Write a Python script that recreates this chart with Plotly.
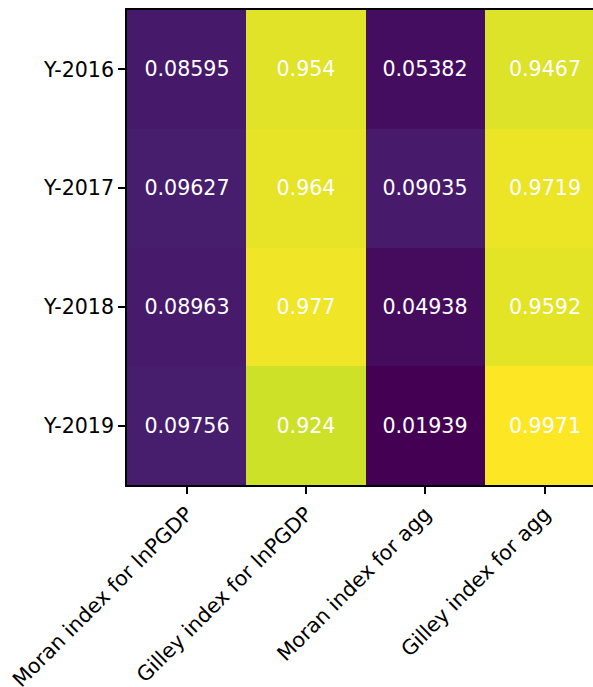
import plotly.graph_objects as go

# Spatial autocorrelation indices by year
years = ["Y-2016", "Y-2017", "Y-2018", "Y-2019"]
indices = ["Moran index for lnPGDP", "Gilley index for lnPGDP",
           "Moran index for agg", "Gilley index for agg"]
moran_lnpgdp = [0.08595, 0.09627, 0.08963, 0.09756]
gilley_lnpgdp = [0.954, 0.964, 0.977, 0.924]
moran_agg = [0.05382, 0.09035, 0.04938, 0.01939]
gilley_agg = [0.9467, 0.9719, 0.9592, 0.9971]

columns = [moran_lnpgdp, gilley_lnpgdp, moran_agg, gilley_agg]
z = [[col[i] for col in columns] for i in range(len(years))]
labels = [["{:.4g}".format(v) for v in row] for row in z]

FONT = "DejaVu Sans"
SIZE = 20.6

fig = go.Figure(
    go.Heatmap(
        z=z,
        x=list(range(len(indices))),
        y=list(range(len(years))),
        text=labels,
        texttemplate="%{text}",
        textfont=dict(family=FONT, size=SIZE, color="white"),
        colorscale="Viridis",
        showscale=False,
        hoverinfo="skip",
    )
)

fig.update_layout(
    width=593,
    height=687,
    margin=dict(l=127, r=0, t=10, b=202),
    paper_bgcolor="white",
    plot_bgcolor="white",
    font=dict(family=FONT, size=SIZE, color="black"),
)

fig.update_xaxes(
    tickmode="array",
    tickvals=list(range(len(indices))),
    ticktext=indices,
    tickangle=-45,
    range=[-0.5, 3.406],
    automargin=False,
    showline=True,
    mirror=True,
    linecolor="black",
    linewidth=1.6,
    ticks="outside",
    ticklen=7,
    tickwidth=1.6,
    tickcolor="black",
    showgrid=False,
    zeroline=False,
)
fig.update_yaxes(
    tickmode="array",
    tickvals=list(range(len(years))),
    ticktext=years,
    range=[3.5, -0.5],
    automargin=False,
    showline=True,
    mirror=False,
    linecolor="black",
    linewidth=1.6,
    ticks="outside",
    ticklen=7,
    tickwidth=1.6,
    tickcolor="black",
    showgrid=False,
    zeroline=False,
)

fig.write_html("out.html")
